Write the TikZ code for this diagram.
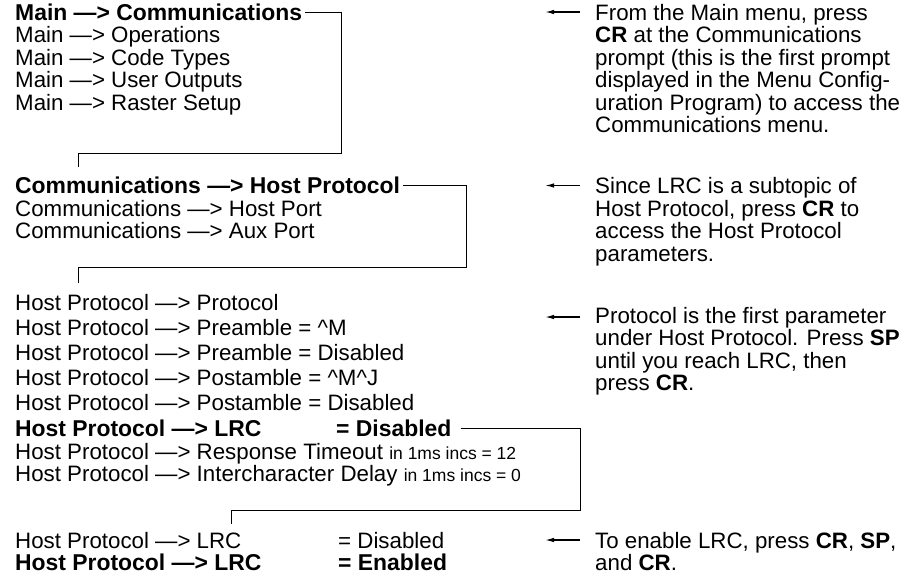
\documentclass[tikz,border=0pt]{standalone}
\usepackage{fontspec}
\setmainfont{Liberation Sans}
\usetikzlibrary{arrows.meta}
\tikzstyle{menu} = [anchor=base west, inner sep=0pt, text height=16pt, text depth=0pt, font=\fontsize{22.3}{22.5}\selectfont]
\tikzstyle{chosen} = [menu, font=\fontsize{22.9}{22.5}\selectfont\bfseries]
\tikzstyle{note} = [menu]
\tikzstyle{link} = [line width=1pt, shorten <=3pt]
\tikzstyle{pointer} = [line width=1.3pt, -{Latex[length=9pt,width=4.5pt]}, shorten <=15pt]
\newcommand{\incs}[1]{{\fontsize{17.5}{17.5}\selectfont #1}}

\begin{document}
\begin{tikzpicture}[x=1pt, y=-1pt]
\useasboundingbox (0,0) rectangle (900,582);

% Menu lines
\node (main1) [chosen] at (15,20) {Main —> Communications};
\node (main2) [menu] at (15,42.5) {Main —> Operations};
\node (main3) [menu] at (15,65) {Main —> Code Types};
\node (main4) [menu] at (15,87.5) {Main —> User Outputs};
\node (main5) [menu] at (15,110) {Main —> Raster Setup};

\node (comm1) [chosen] at (15,193.5) {Communications —> Host Protocol};
\node (comm2) [menu] at (15,216) {Communications —> Host Port};
\node (comm3) [menu] at (15,238.5) {Communications —> Aux Port};

\node (host1) [menu] at (15,310) {Host Protocol —> Protocol};
\node (host2) [menu] at (15,335) {Host Protocol —> Preamble = \textasciicircum M};
\node (host3) [menu] at (15,360) {Host Protocol —> Preamble = Disabled};
\node (host4) [menu] at (15,385) {Host Protocol —> Postamble = \textasciicircum M\textasciicircum J};
\node (host5) [menu] at (15,410) {Host Protocol —> Postamble = Disabled};
\node (host6) [chosen] at (15,436) {Host Protocol —> LRC};
\node (host6v) [chosen] at (336,436) {= Disabled};
\node (host7) [menu] at (15,459) {Host Protocol —> Response Timeout \incs{in 1ms incs = 12}};
\node (host8) [menu] at (15,481.5) {Host Protocol —> Intercharacter Delay \incs{in 1ms incs = 0}};

\node (lrc1) [menu] at (15,548) {Host Protocol —> LRC};
\node (lrc1v) [menu] at (338,548) {= Disabled};
\node (lrc2) [chosen] at (15,570.5) {Host Protocol —> LRC};
\node (lrc2v) [chosen] at (338,570.5) {= Enabled};

% Notes
\node (na1) [note] at (595,20) {From the Main menu, press};
\node (na2) [note] at (595,42.5) {\textbf{CR} at the Communications};
\node (na3) [note] at (595,65) {prompt (this is the first prompt};
\node (na4) [note] at (595,87.5) {displayed in the Menu Config-};
\node (na5) [note] at (595,110) {uration Program) to access the};
\node (na6) [note] at (595,132.5) {Communications menu.};

\node (nb1) [note] at (595,193.5) {Since LRC is a subtopic of};
\node (nb2) [note] at (595,216) {Host Protocol, press \textbf{CR} to};
\node (nb3) [note] at (595,238.5) {access the Host Protocol};
\node (nb4) [note] at (595,261) {parameters.};

\node (nc1) [note] at (595,323) {Protocol is the first parameter};
\node (nc2) [note] at (595,345.5) {under Host Protocol. Press \textbf{SP}};
\node (nc3) [note] at (595,368) {until you reach LRC, then};
\node (nc4) [note] at (595,390.5) {press \textbf{CR}.};

\node (nd1) [note] at (595,548) {To enable LRC, press \textbf{CR}, \textbf{SP},};
\node (nd2) [note] at (595,570.5) {and \textbf{CR}.};

% Bracket corners and ends
\coordinate (c1) at (341,153);
\coordinate (t1) at (78,167);
\coordinate (c2) at (466,267);
\coordinate (t2) at (78,283);
\coordinate (c3) at (580,510);
\coordinate (t3) at (231,524);

\coordinate (pa) at (545,12);
\coordinate (pb) at (545,185.5);
\coordinate (pc) at (545,317);
\coordinate (pd) at (545,540);

% Brackets
\draw [link] (main1.east) -| (c1) -| (t1);
\draw [link] (comm1.east) -| (c2) -| (t2);
\draw [link, shorten <=9pt] (host6v.east) -| (c3) -| (t3);

% Arrows
\draw [pointer] (na1.west) -- (pa);
\draw [pointer] (nb1.west) -- (pb);
\draw [pointer] (nc1.west |- pc) -- (pc);
\draw [pointer] (nd1.west) -- (pd);

\end{tikzpicture}
\end{document}
